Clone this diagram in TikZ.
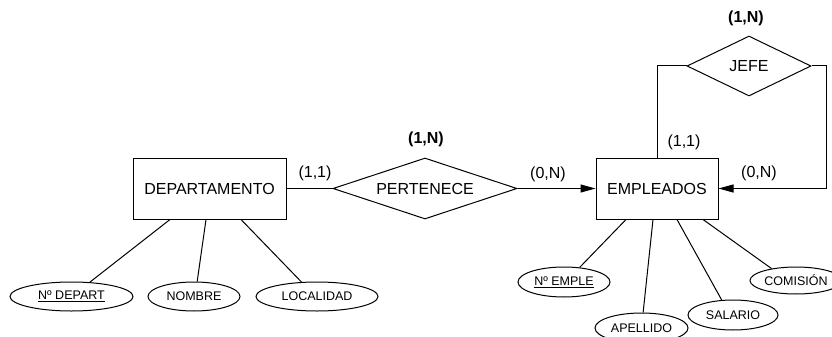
\documentclass[tikz,border=0pt]{standalone}
\usepackage{fontspec}
\setmainfont{Liberation Sans}
\usetikzlibrary{shapes.geometric,arrows.meta}
\tikzset{
  ent/.style={draw, rectangle, line width=1pt, inner sep=0pt, minimum height=61pt, font=\fontsize{16}{18}\selectfont},
  rel/.style={draw, diamond, aspect=3, line width=1pt, inner sep=0pt, font=\fontsize{16}{18}\selectfont},
  attr/.style={draw, ellipse, line width=1pt, inner sep=0pt, minimum width=92pt, minimum height=29pt, font=\fontsize{12.5}{14}\selectfont},
  card/.style={inner sep=0pt, font=\fontsize{16}{18}\selectfont},
  bcard/.style={inner sep=0pt, font=\fontsize{16}{18}\selectfont\bfseries},
  conn/.style={line width=1pt},
  arr/.style={line width=1pt, -{Triangle[length=15pt,width=8pt]}}
}
\begin{document}
\begin{tikzpicture}[x=1pt,y=-1pt]
\fill[white] (0,0) rectangle (832,337);
\useasboundingbox (0,0) rectangle (832,337);
\clip (0,0) rectangle (832,337);
% entities and relations
\node[ent, minimum width=153pt] (dep) at (209.5,188.5) {DEPARTAMENTO};
\node[rel, minimum width=184pt, minimum height=61pt] (per) at (425,188.5) {PERTENECE};
\node[ent, minimum width=122pt] (emp) at (657,188.5) {EMPLEADOS};
\node[rel, minimum width=124pt, minimum height=60pt] (jefe) at (749,66) {JEFE};
\coordinate (c1) at (826,188.5);
% connectors
\draw[conn] (dep.east) -- (per.west);
\draw[arr] (per.east) -- (emp.west);
\draw[conn] (jefe.west) -| (emp.north);
\draw[arr] (jefe.east) -| (c1) -- (emp.east);
% cardinalities
\node[bcard] (k1) at (426,139) {(1,N)};
\node[card] (k2) at (315,173) {(1,1)};
\node[card] (k3) at (548,174) {(0,N)};
\node[bcard] (k4) at (746,18) {(1,N)};
\node[card] (k5) at (684,142) {(1,1)};
\node[card] (k6) at (759,173) {(0,N)};
% attributes of DEPARTAMENTO
\node[attr, minimum width=123pt] (a1) at (71.5,296.5) {\underline{Nº DEPART}};
\node[attr, minimum width=92pt] (a2) at (194,296.5) {NOMBRE};
\node[attr, minimum width=122pt] (a3) at (317,296.5) {LOCALIDAD};
\draw[conn] ([xshift=-39.5pt]dep.south) -- (a1.38);
\draw[conn] ([xshift=-3.5pt]dep.south) -- (a2.78);
\draw[conn] ([xshift=31.5pt]dep.south) -- (a3.137);
% attributes of EMPLEADOS
\node[attr, minimum height=30pt] (b1) at (564,282) {\underline{Nº EMPLE}};
\node[attr, minimum width=93pt, minimum height=30pt] (b2) at (641.5,328) {APELLIDO};
\node[attr, minimum width=90pt, minimum height=30pt] (b3) at (733,315) {SALARIO};
\node[attr, minimum height=27pt] (b4) at (796,280.5) {COMISIÓN};
\draw[conn] ([xshift=-31pt]emp.south) -- (b1.43);
\draw[conn] ([xshift=-4pt]emp.south) -- (b2.84);
\draw[conn] ([xshift=20pt]emp.south) -- (b3.127);
\draw[conn] ([xshift=46pt]emp.south) -- (b4.154);
\end{tikzpicture}
\end{document}
